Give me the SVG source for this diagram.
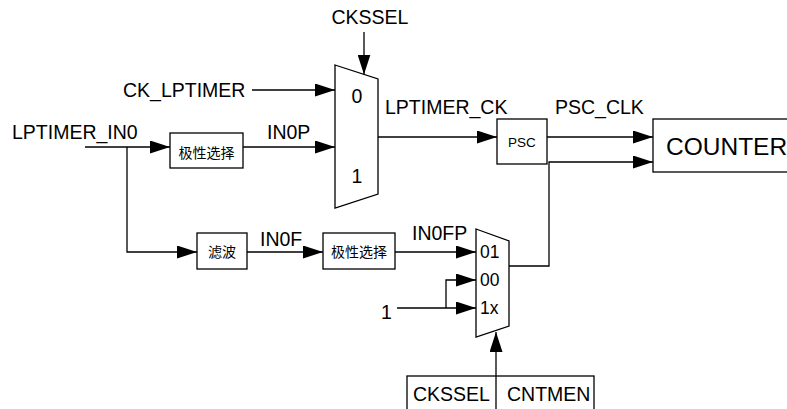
<svg xmlns="http://www.w3.org/2000/svg" width="787" height="409" viewBox="0 0 787 409">
<defs>
<marker id="arr" markerUnits="userSpaceOnUse" markerWidth="20" markerHeight="13" refX="20" refY="6.5" orient="auto">
<path d="M0,0 L20,6.5 L0,13 z" fill="#000"/>
</marker>
<style>
.ln{fill:none;stroke:#000;stroke-width:1.3}
.ar{fill:none;stroke:#000;stroke-width:1.3;marker-end:url(#arr)}
.bx{fill:#fff;stroke:#000;stroke-width:1.3}
.t{font-family:"Liberation Sans",Arial,sans-serif;font-size:19.5px;fill:#000}
.m{font-family:"Liberation Sans",Arial,sans-serif;font-size:17.5px;fill:#000}
.c{font-family:"Liberation Sans","Noto Sans CJK SC",sans-serif;font-size:14px;fill:#000}
</style>
</defs>
<rect width="787" height="409" fill="#fff"/>
<g id="connectors">
<path class="ar" d="M364,32 L364,74.5"/>
<path class="ar" d="M252,90 L335,90"/>
<path class="ar" d="M85,147 L170,147"/>
<path class="ar" d="M243,147 L335,147"/>
<path class="ar" d="M127,147 L127,252 L197,252"/>
<path class="ar" d="M247,252 L323,252"/>
<path class="ar" d="M395,252 L476,252"/>
<path class="ar" d="M397,308 L476,308"/>
<path class="ar" d="M446,308 L446,280 L476,280"/>
<path class="ar" d="M509,266 L549,266 L549,162 L653,162"/>
<path class="ar" d="M378,137 L497,137"/>
<path class="ar" d="M547,137 L653,137"/>
<path class="ar" d="M496,409 L496,332"/>
</g>
<g id="mux1">
<path class="bx" d="M335,65 L378,79 L378,194 L335,208 Z"/>
<text class="t" x="357" y="103" text-anchor="middle">0</text>
<text class="t" x="357" y="183" text-anchor="middle">1</text>
</g>
<g id="polarity1">
<rect class="bx" x="170" y="133" width="73" height="35"/>
<text class="c" x="206.5" y="157.5" text-anchor="middle">极性选择</text>
</g>
<g id="filter">
<rect class="bx" x="197" y="233" width="50" height="36"/>
<text class="c" x="222" y="257" text-anchor="middle">滤波</text>
</g>
<g id="polarity2">
<rect class="bx" x="323" y="233" width="72" height="36"/>
<text class="c" x="359" y="257" text-anchor="middle">极性选择</text>
</g>
<g id="psc">
<rect class="bx" x="497" y="119" width="50" height="45"/>
<text class="t" x="522" y="147" text-anchor="middle" style="font-size:13.5px">PSC</text>
</g>
<g id="counter">
<rect class="bx" x="653" y="119" width="140" height="53"/>
<text class="t" x="666" y="155" style="font-size:24.5px">COUNTER</text>
</g>
<g id="mux2">
<path class="bx" d="M476,229 L509,241 L509,326 L476,337 Z"/>
<text class="m" x="480" y="258">01</text>
<text class="m" x="480" y="286">00</text>
<text class="m" x="480" y="314">1x</text>
</g>
<g id="sel-table">
<rect class="bx" x="407" y="376" width="187" height="40"/>
<line class="ln" x1="496" y1="376" x2="496" y2="409"/>
<text class="t" x="413" y="401">CKSSEL</text>
<text class="t" x="507" y="401">CNTMEN</text>
</g>
<g id="labels">
<text class="t" x="370" y="24" text-anchor="middle">CKSSEL</text>
<text class="t" x="123" y="97">CK_LPTIMER</text>
<text class="t" x="12" y="139">LPTIMER_IN0</text>
<text class="t" x="267" y="139">IN0P</text>
<text class="t" x="385" y="114">LPTIMER_CK</text>
<text class="t" x="555" y="114">PSC_CLK</text>
<text class="t" x="260" y="246">IN0F</text>
<text class="t" x="412" y="240">IN0FP</text>
<text class="t" x="381" y="319">1</text>
</g>
</svg>
